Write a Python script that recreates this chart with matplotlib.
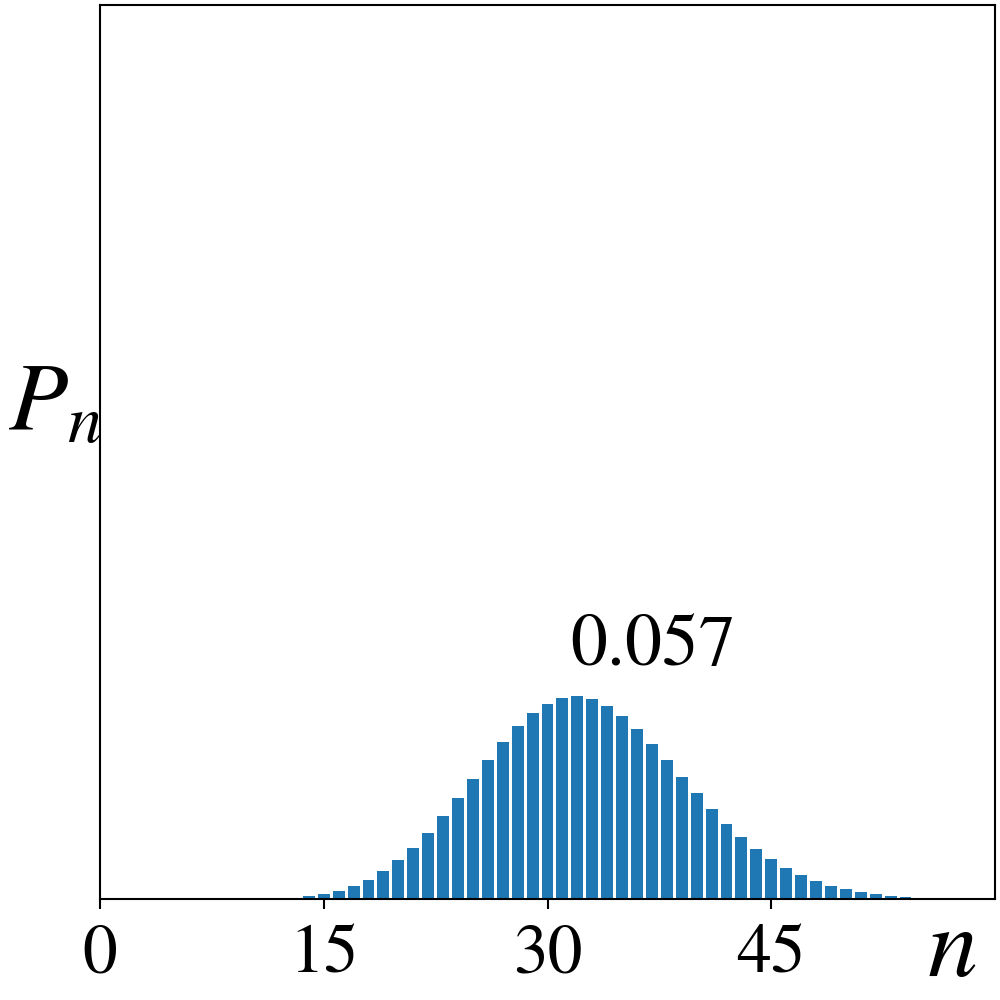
import numpy as np
import matplotlib
matplotlib.use('Agg')
import matplotlib.pyplot as plt

# values (n = 13 .. 55)
n_values = list(range(13, 56))
p_values = [0.0004, 0.0008, 0.0014, 0.0022, 0.0036, 0.0053, 0.0078, 0.0109,
            0.0143, 0.0185, 0.0232, 0.0282, 0.0336, 0.0389, 0.0439, 0.0484,
            0.0520, 0.0545, 0.0563, 0.0568, 0.0560, 0.0540, 0.0512, 0.0475,
            0.0433, 0.0389, 0.0341, 0.0296, 0.0252, 0.0210, 0.0173, 0.0140,
            0.0112, 0.0087, 0.0067, 0.0050, 0.0036, 0.0028, 0.0020, 0.0014,
            0.0008, 0.0006, 0.0004]
x_ticks = [0, 15, 30, 45]


def main():
    plt.rcParams['font.family'] = 'STIXGeneral'
    plt.rcParams['mathtext.fontset'] = 'stix'

    fig = plt.figure(figsize=(10, 10), dpi=100)
    ax = fig.add_axes([0.1, 0.101, 0.895, 0.894])

    ax.bar(n_values, p_values, width=0.8, color='#1f77b4')

    peak = max(p_values)
    peak_n = n_values[p_values.index(peak)]
    ax.text(peak_n - 0.5, 0.0655, '{:.3f}'.format(peak), fontsize=53,
            ha='left', va='baseline')

    ax.set_xlim(0, 60)
    ax.set_ylim(0, 0.25)
    ax.set_xticks(x_ticks)
    ax.set_xticklabels([str(t) for t in x_ticks], fontsize=50)
    ax.set_yticks([])
    ax.tick_params(axis='x', length=7, width=1.5, pad=12)
    for sp in ax.spines.values():
        sp.set_linewidth(1.5)

    ax.set_xlabel('$n$', fontsize=72, ha='center')
    ax.xaxis.set_label_coords(0.952, -0.010)
    ax.set_ylabel('$P_n$', fontsize=70, rotation=0, ha='center', va='bottom')
    ax.yaxis.set_label_coords(-0.05, 0.5)

    fig.savefig('out.png', dpi=100)


if __name__ == '__main__':
    main()
